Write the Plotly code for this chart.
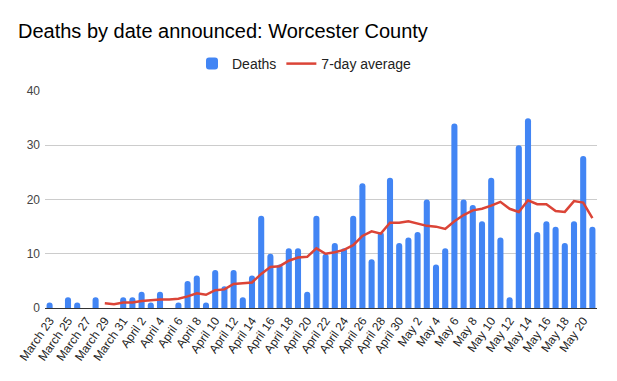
import plotly.graph_objects as go

dates = [
    "March 23", "March 24", "March 25", "March 26", "March 27", "March 28", "March 29",
    "March 30", "March 31", "April 1", "April 2", "April 3", "April 4", "April 5",
    "April 6", "April 7", "April 8", "April 9", "April 10", "April 11", "April 12",
    "April 13", "April 14", "April 15", "April 16", "April 17", "April 18", "April 19",
    "April 20", "April 21", "April 22", "April 23", "April 24", "April 25", "April 26",
    "April 27", "April 28", "April 29", "April 30", "May 1", "May 2", "May 3",
    "May 4", "May 5", "May 6", "May 7", "May 8", "May 9", "May 10",
    "May 11", "May 12", "May 13", "May 14", "May 15", "May 16", "May 17",
    "May 18", "May 19", "May 20", "May 21",
]

deaths = [
    1, 0, 2, 1, 0, 2, 0,
    0, 2, 2, 3, 1, 3, 0,
    1, 5, 6, 1, 7, 4, 7,
    2, 6, 17, 10, 8, 11, 11,
    3, 17, 10, 12, 11, 17, 23,
    9, 14, 24, 12, 13, 14, 20,
    8, 11, 34, 20, 19, 16, 24,
    13, 2, 30, 35, 14, 16, 15,
    12, 16, 28, 15,
]

avg_dates = dates[6:]
avg_values = [
    0.86, 0.71, 1.00, 1.00, 1.29, 1.43, 1.57,
    1.57, 1.71, 2.14, 2.71, 2.43, 3.29, 3.43,
    4.43, 4.57, 4.71, 6.29, 7.57, 7.71, 8.71,
    9.29, 9.43, 11.00, 10.00, 10.29, 10.71, 11.57,
    13.29, 14.14, 13.71, 15.71, 15.71, 16.00, 15.57,
    15.14, 15.00, 14.57, 16.00, 17.14, 18.00, 18.29,
    18.86, 19.57, 18.29, 17.71, 19.86, 19.14, 19.14,
    17.86, 17.71, 19.71, 19.43, 16.57,
]

tick_labels = [
    "March 23", "March 25", "March 27", "March 29", "March 31",
    "April 2", "April 4", "April 6", "April 8", "April 10", "April 12",
    "April 14", "April 16", "April 18", "April 20", "April 22", "April 24",
    "April 26", "April 28", "April 30", "May 2", "May 4", "May 6", "May 8",
    "May 10", "May 12", "May 14", "May 16", "May 18", "May 20",
]

y_ticks = [0, 10, 20, 30, 40]

FONT = "Liberation Sans, Arial, sans-serif"

fig = go.Figure()
fig.add_trace(go.Bar(
    x=dates, y=deaths, name="Deaths",
    marker=dict(color="#4285F4", line=dict(width=0)),
))
fig.add_trace(go.Scatter(
    x=avg_dates, y=avg_values, name="7-day average", mode="lines",
    line=dict(color="#DB4437", width=2.5),
))

fig.update_layout(
    width=617, height=381,
    margin=dict(l=45, r=20, t=91, b=73, autoexpand=False),
    paper_bgcolor="white", plot_bgcolor="white",
    font=dict(family=FONT, color="#222222"),
    bargap=0.34,
    barcornerradius=3,
    title=dict(
        text="Deaths by date announced: Worcester County",
        font=dict(family=FONT, size=20, color="#000000"),
        x=18 / 617, xref="container", xanchor="left",
        y=1 - 31 / 381, yref="container", yanchor="middle",
    ),
    legend=dict(
        orientation="h",
        x=0.5 - 4 / 617, xref="container", xanchor="center",
        y=1 - 64 / 381, yref="container", yanchor="middle",
        font=dict(family=FONT, size=14, color="#222222"),
        itemwidth=30,
        traceorder="normal",
    ),
    showlegend=True,
)

fig.update_xaxes(
    type="category",
    categoryorder="array", categoryarray=dates,
    tickmode="array", tickvals=tick_labels, ticktext=tick_labels,
    tickangle=-55,
    tickfont=dict(family=FONT, size=12, color="#222222"),
    showline=True, linecolor="#333333", linewidth=1,
    showgrid=False, ticks="", automargin=False,
    range=[-0.5, len(dates) - 0.5],
)
fig.update_yaxes(
    range=[0, 40],
    tickmode="array", tickvals=y_ticks,
    tickfont=dict(family=FONT, size=12, color="#444444"),
    showgrid=True, gridcolor="#cccccc", gridwidth=1,
    zeroline=False, showline=False, ticks="", automargin=False,
    ticklabelstandoff=4,
)

fig.write_html(
    "out.html",
    config={"displayModeBar": False},
    post_script="document.body.style.margin='0';document.body.style.overflow='hidden';",
)
